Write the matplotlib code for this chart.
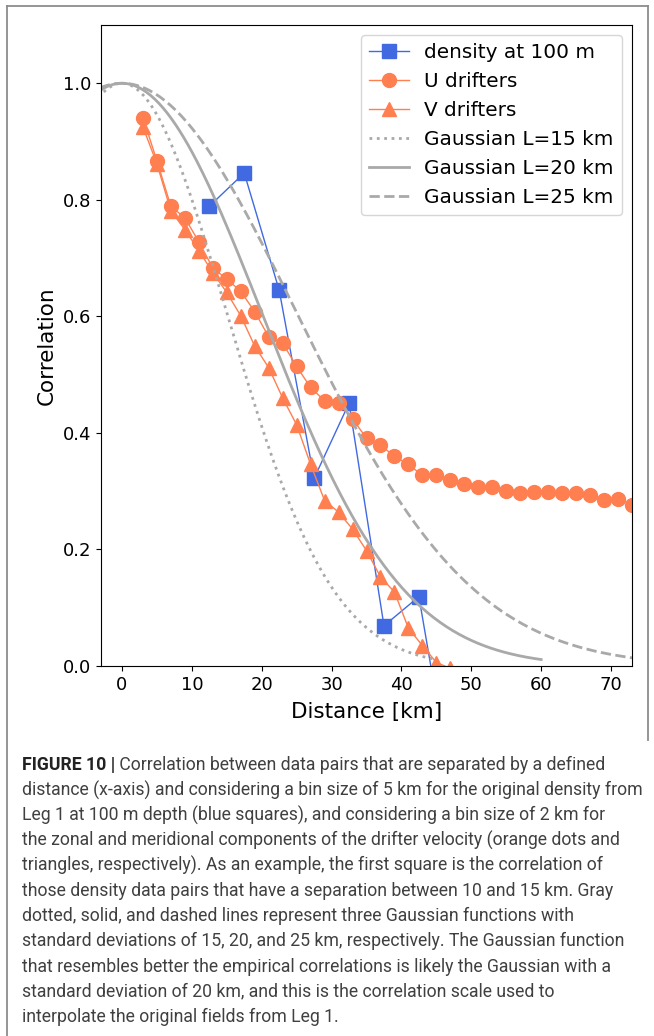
import numpy as np
import matplotlib
matplotlib.use("Agg")
import matplotlib.pyplot as plt
from matplotlib import font_manager
from matplotlib.lines import Line2D

# ---------------- data ----------------
density_x = [12.5, 17.5, 22.5, 27.5, 32.5, 37.5, 42.5, 47.5]
density_y = [0.789, 0.846, 0.645, 0.322, 0.451, 0.069, 0.119, -0.23]

u_x = [3, 5, 7, 9, 11, 13, 15, 17, 19, 21, 23, 25, 27, 29, 31, 33, 35, 37,
       39, 41, 43, 45, 47, 49, 51, 53, 55, 57, 59, 61, 63, 65, 67, 69, 71, 73]
u_y = [0.941, 0.867, 0.789, 0.769, 0.728, 0.683, 0.664, 0.643, 0.608, 0.565,
       0.554, 0.514, 0.478, 0.455, 0.451, 0.424, 0.391, 0.379, 0.360, 0.346,
       0.327, 0.327, 0.319, 0.313, 0.308, 0.308, 0.301, 0.297, 0.299, 0.299,
       0.297, 0.297, 0.294, 0.285, 0.287, 0.277]

v_x = [3, 5, 7, 9, 11, 13, 15, 17, 19, 21, 23, 25, 27, 29, 31, 33, 35, 37,
       39, 41, 43, 45, 47, 49]
v_y = [0.925, 0.862, 0.781, 0.749, 0.713, 0.675, 0.641, 0.601, 0.549, 0.512,
       0.460, 0.414, 0.346, 0.284, 0.264, 0.235, 0.198, 0.153, 0.127, 0.065,
       0.035, 0.006, -0.004, -0.03]

gauss_L = [15, 20, 25]
gauss_styles = [":", "-", "--"]
gauss_labels = ["Gaussian L=15 km", "Gaussian L=20 km", "Gaussian L=25 km"]

x_ticks = [0, 10, 20, 30, 40, 50, 60, 70]
y_ticks = [0.0, 0.2, 0.4, 0.6, 0.8, 1.0]

caption_bold = "FIGURE 10 |"
caption_lines = [
    " Correlation between data pairs that are separated by a defined",
    "distance (x-axis) and considering a bin size of 5 km for the original density from",
    "Leg 1 at 100 m depth (blue squares), and considering a bin size of 2 km for",
    "the zonal and meridional components of the drifter velocity (orange dots and",
    "triangles, respectively). As an example, the first square is the correlation of",
    "those density data pairs that have a separation between 10 and 15 km. Gray",
    "dotted, solid, and dashed lines represent three Gaussian functions with",
    "standard deviations of 15, 20, and 25 km, respectively. The Gaussian function",
    "that resembles better the empirical correlations is likely the Gaussian with a",
    "standard deviation of 20 km, and this is the correlation scale used to",
    "interpolate the original fields from Leg 1.",
]

# ---------------- figure ----------------
W, H = 654, 1036
fig = plt.figure(figsize=(W / 100, H / 100), dpi=100)
fig.patch.set_facecolor("white")

ax = fig.add_axes([101 / W, 1 - 666 / H, (632 - 101) / W, (666 - 25) / H])

blue = "#4169E1"
orange = "#FF7F50"
gray = "#A9A9A9"

ax.plot(density_x, density_y, "-s", color=blue, lw=1.0, ms=9.5,
        label="density at 100 m")
ax.plot(u_x, u_y, "-o", color=orange, lw=1.0, ms=10, label="U drifters")
ax.plot(v_x, v_y, "-^", color=orange, lw=1.0, ms=10, label="V drifters")
for L, ls, lab in zip(gauss_L, gauss_styles, gauss_labels):
    xg = np.linspace(-3 * L, 3 * L, 400)
    ax.plot(xg, np.exp(-xg ** 2 / (2 * L ** 2)), ls=ls, color=gray, lw=2,
            label=lab)

ax.set_xlim(-3, 73)
ax.set_ylim(0, 1.1)
ax.set_xticks(x_ticks)
ax.set_yticks(y_ticks)
ax.tick_params(labelsize=13)
ax.set_xlabel("Distance [km]", fontsize=15.5, labelpad=6)
ax.set_ylabel("Correlation", fontsize=15.5)
ax.legend(loc="upper right", fontsize=14.4)

# outer frame
fc = "#8c8c8c"
fig.add_artist(Line2D([7 / W, 7 / W], [0, 1 - 6 / H], color=fc, lw=1.3,
                      transform=fig.transFigure))
fig.add_artist(Line2D([7 / W, 648 / W], [1 - 6 / H, 1 - 6 / H], color=fc,
                      lw=1.3, transform=fig.transFigure))
fig.add_artist(Line2D([648 / W, 648 / W], [1 - 6 / H, 1 - 740 / H], color=fc,
                      lw=1.3, transform=fig.transFigure))

# caption
names = {f.name for f in font_manager.fontManager.ttflist}
if "Liberation Sans Narrow" in names:
    cap_font = "Liberation Sans Narrow"
elif "Roboto" in names:
    cap_font = "Roboto"
else:
    cap_font = "Liberation Sans"
fig.canvas.draw()
renderer = fig.canvas.get_renderer()

probe = fig.text(0, 0, caption_lines[1], fontsize=10, family=cap_font)
wpx = probe.get_window_extent(renderer).width
probe.remove()
cap_size = 10 * (645 - 22) / wpx

x0 = 22 / W
y_first = 765
step = 25.2
for i, line in enumerate(caption_lines):
    y = 1 - (y_first + i * step) / H
    if i == 0:
        tb = fig.text(x0, y, caption_bold, fontsize=cap_size, family=cap_font,
                      weight="bold", color="#222222", va="center", ha="left")
        bb = tb.get_window_extent(renderer)
        fig.text(bb.x1 / W, y, line, fontsize=cap_size, family=cap_font,
                 color="#404040", va="center", ha="left")
    else:
        fig.text(x0, y, line, fontsize=cap_size, family=cap_font,
                 color="#404040", va="center", ha="left")

fig.savefig("out.png", dpi=100)
